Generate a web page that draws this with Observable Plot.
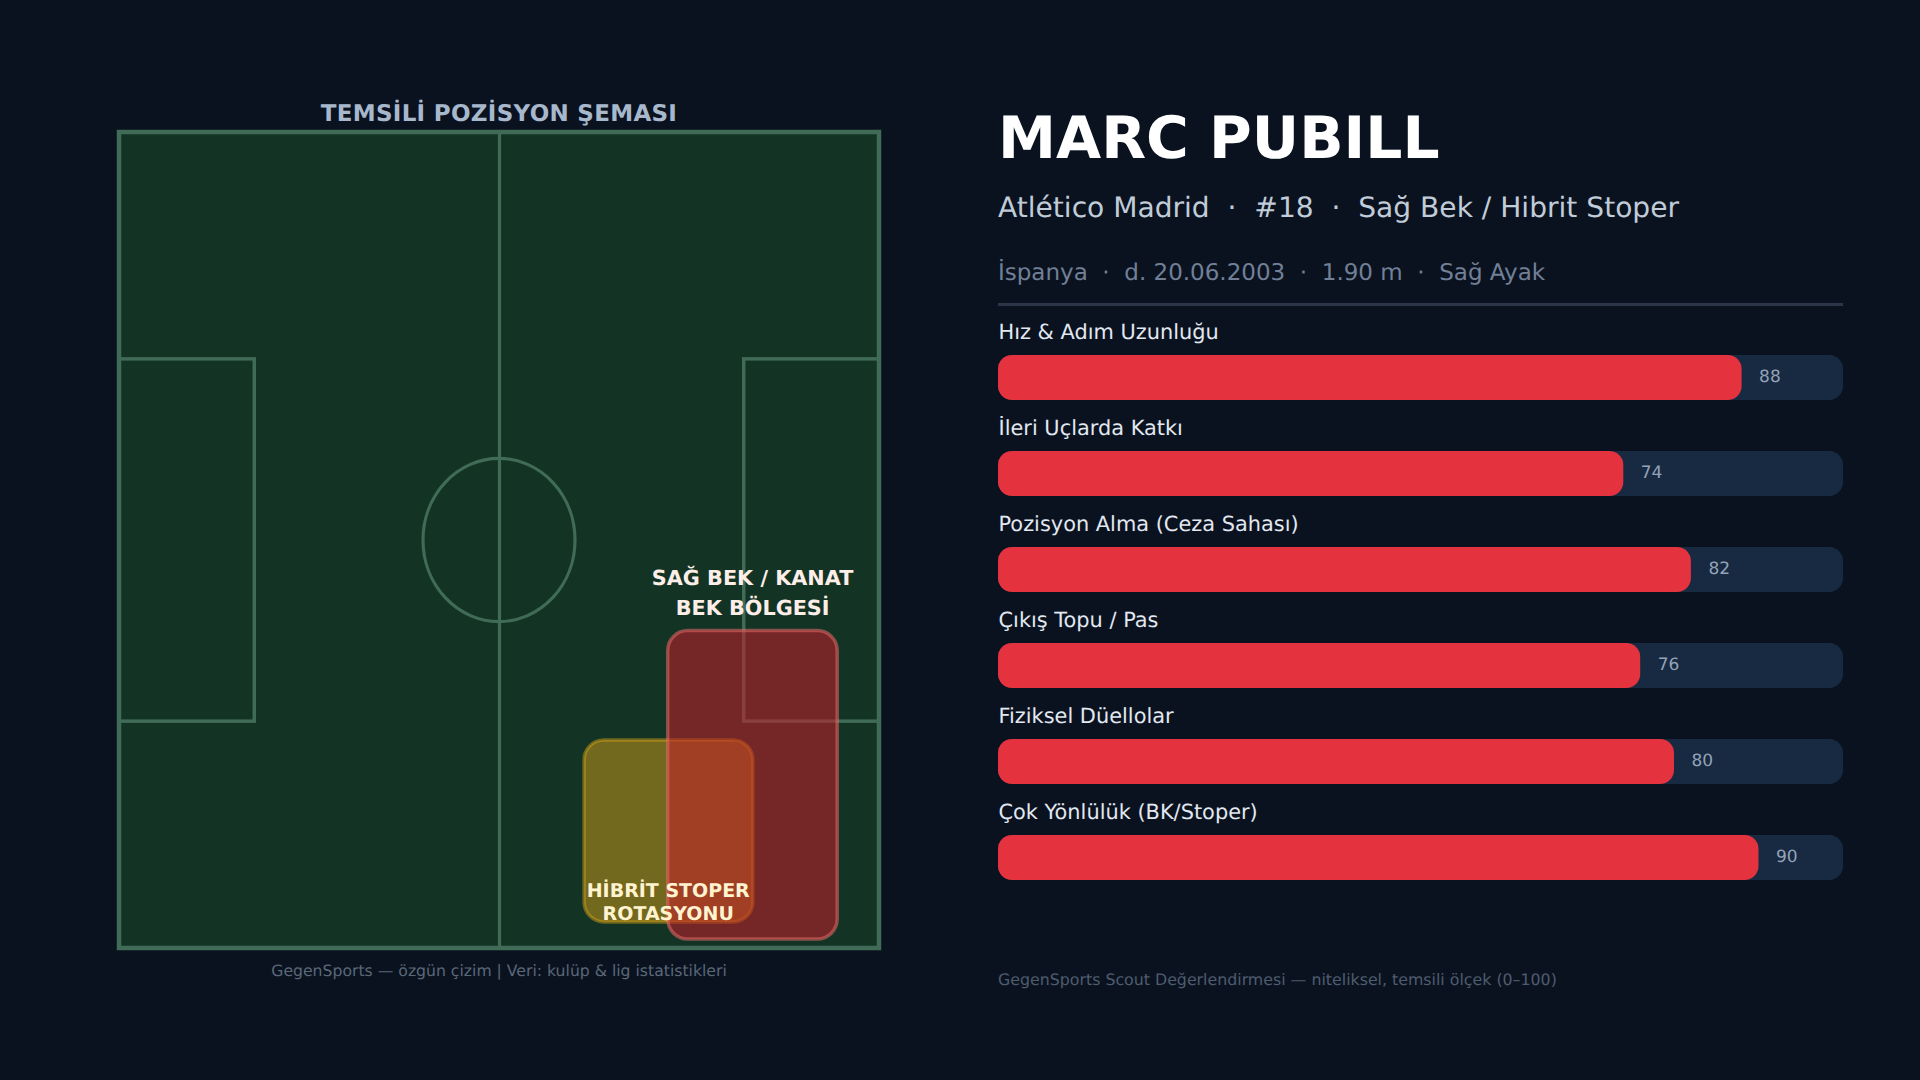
<!DOCTYPE html>
<html lang="tr">
<head>
<meta charset="utf-8">
<script src="https://cdn.jsdelivr.net/npm/d3@7"></script>
<script src="https://cdn.jsdelivr.net/npm/@observablehq/plot@0.6"></script>
<style>
html,body{margin:0;padding:0;background:#0a1220;width:1920px;height:1080px;overflow:hidden;font-family:"DejaVu Sans",sans-serif;text-rendering:geometricPrecision}
.t{position:absolute;white-space:pre;line-height:1}
#pitch,#bars{position:absolute}
svg{display:block;overflow:visible;text-rendering:geometricPrecision}
</style>
</head>
<body>
<div class="t" style="left:119px;width:760px;top:103px;text-align:center;font-size:23px;font-weight:700;letter-spacing:.3px;color:#a8b8cc">TEMSİLİ POZİSYON ŞEMASI</div>
<div class="t" style="left:119px;width:760px;top:963px;text-align:center;font-size:15.66px;color:#5a6878">GegenSports — özgün çizim | Veri: kulüp &amp; lig istatistikleri</div>
<div class="t" style="left:998px;top:109px;font-size:58.3px;font-weight:700;color:#ffffff">MARC PUBILL</div>
<div class="t" style="left:998px;top:194px;font-size:28.1px;color:#c0ccd8">Atlético Madrid  ·  #18  ·  Sağ Bek / Hibrit Stoper</div>
<div class="t" style="left:998px;top:262px;font-size:23px;color:#718096">İspanya  ·  d. 20.06.2003  ·  1.90 m  ·  Sağ Ayak</div>
<div style="position:absolute;left:998px;top:303px;width:845px;height:2.5px;background:#2a3548"></div>
<div class="t" style="left:998px;top:972px;font-size:15.8px;color:#4f5c6e">GegenSports Scout Değerlendirmesi — niteliksel, temsili ölçek (0–100)</div>
<div id="pitch"></div>
<div id="bars"></div>
<script>
const attributes = ["Hız & Adım Uzunluğu","İleri Uçlarda Katkı","Pozisyon Alma (Ceza Sahası)","Çıkış Topu / Pas","Fiziksel Düellolar","Çok Yönlülük (BK/Stoper)"];
const ratings = [88,74,82,76,80,90];

const lineBoxes = [
  {x1:0,x2:100,y1:0,y2:100},
  {x1:0,x2:17.8,y1:27.8,y2:72.2},
  {x1:82.2,x2:100,y1:27.8,y2:72.2}
];
const halfway = [{x:50,y1:0,y2:100}];
const centreCircle = [{x1:40,x2:60,y1:40,y2:60}];
const zoneNames = ["HİBRİT STOPER\nROTASYONU","SAĞ BEK / KANAT\nBEK BÖLGESİ"];
const zoneX1 = [61.2,72.2];
const zoneX2 = [83.4,94.5];
const zoneY1 = [74.5,61.1];
const zoneY2 = [96.8,98.9];
const labelX = [72.2,83.3];
const labelY = [94.2,56.15];

const M = 10;
const PW = 760, PH = 816;
const pitchEl = Plot.plot({
  width: PW + 2*M, height: PH + 2*M,
  marginTop: M, marginBottom: M, marginLeft: M, marginRight: M,
  x:{domain:[0,100],axis:null},
  y:{domain:[0,100],reverse:true,axis:null},
  style:{background:"transparent",overflow:"visible",maxWidth:"none"},
  marks:[
    Plot.rect([lineBoxes[0]],{x1:"x1",x2:"x2",y1:"y1",y2:"y2",fill:"#133325"}),
    Plot.rect(lineBoxes.slice(1),{x1:"x1",x2:"x2",y1:"y1",y2:"y2",fill:"none",stroke:"#406b56",strokeWidth:3.5}),
    Plot.ruleX(halfway,{x:"x",y1:"y1",y2:"y2",stroke:"#406b56",strokeWidth:3.2}),
    Plot.rect(centreCircle,{x1:"x1",x2:"x2",y1:"y1",y2:"y2",rx:76,ry:81.6,fill:"none",stroke:"#406b56",strokeWidth:3.2}),
    Plot.rect([lineBoxes[0]],{x1:"x1",x2:"x2",y1:"y1",y2:"y2",fill:"none",stroke:"#406b56",strokeWidth:4.5}),
    Plot.rect([0],{x1:zoneX1[0],x2:zoneX2[0],y1:zoneY1[0],y2:zoneY2[0],rx:20,fill:"#d4a017",fillOpacity:.5,stroke:"#d4a017",strokeOpacity:.48,strokeWidth:3.5}),
    Plot.rect([0],{x1:zoneX1[1],x2:zoneX2[1],y1:zoneY1[1],y2:zoneY2[1],rx:20,fill:"#c41e28",fillOpacity:.55,stroke:"#e86a6a",strokeOpacity:.55,strokeWidth:3.5}),
    Plot.text([zoneNames[1]],{x:labelX[1],y:labelY[1],text:d=>d,fill:"#fdeee8",fontSize:20.75,fontWeight:700,lineHeight:1.45,textAnchor:"middle",lineAnchor:"middle",fontFamily:"DejaVu Sans"}),
    Plot.text([zoneNames[0]],{x:labelX[0],y:labelY[0],text:d=>d,fill:"#fff3d0",fontSize:19,fontWeight:700,lineHeight:1.2,textAnchor:"middle",lineAnchor:"middle",fontFamily:"DejaVu Sans"})
  ]
});
const pw = document.getElementById("pitch");
pw.style.left = (119-M)+"px"; pw.style.top = (132-M)+"px";
pw.append(pitchEl);

const rows = attributes.map((a,i)=>({a,v:ratings[i]}));
const barsEl = Plot.plot({
  width: 845, height: 882,
  marginTop:0, marginBottom:0, marginLeft:0, marginRight:0,
  x:{domain:[0,100],axis:null},
  y:{type:"band",domain:attributes,range:[354.8,881],paddingInner:.532,paddingOuter:0,axis:null},
  style:{background:"transparent",overflow:"visible",maxWidth:"none"},
  marks:[
    Plot.barX(rows,{x1:0,x2:()=>100,y:"a",fill:"#182a42",rx:14}),
    Plot.barX(rows,{x1:0,x2:"v",y:"a",fill:"#e4323f",rx:14}),
    Plot.text(rows,{x:"v",y:"a",text:d=>String(d.v),textAnchor:"start",dx:17,dy:-1.5,fill:"#94a3b8",fontSize:17,fontFamily:"DejaVu Sans"}),
    Plot.text(rows,{x:0,y:"a",text:"a",textAnchor:"start",dy:-46,fill:"#e2e8f0",fontSize:20.9,fontFamily:"DejaVu Sans"})
  ]
});
const bw = document.getElementById("bars");
bw.style.left="998px"; bw.style.top="0px"; bw.style.width="845px";
bw.append(barsEl);
</script>
</body>
</html>
